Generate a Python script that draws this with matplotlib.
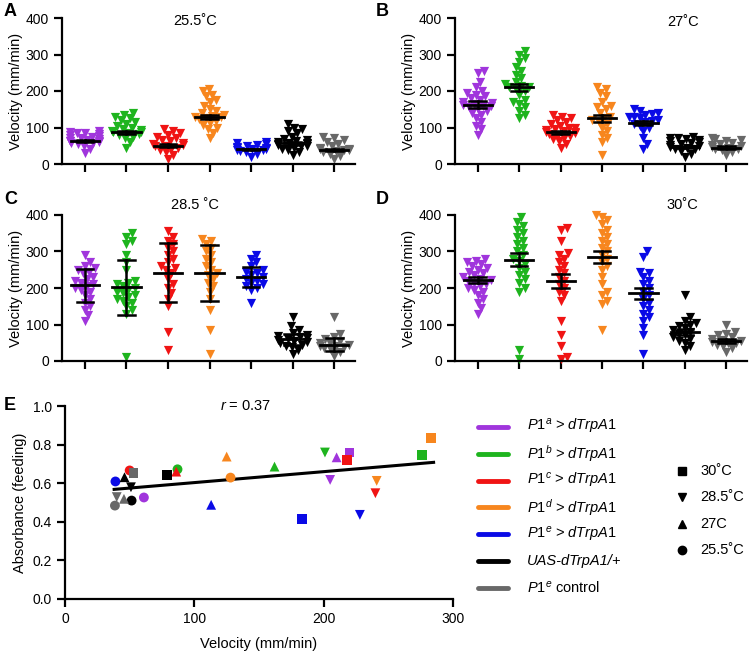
import numpy as np
import matplotlib
matplotlib.use("Agg")
import matplotlib.pyplot as plt
from matplotlib.lines import Line2D

plt.rcParams['font.family'] = ['Liberation Sans', 'DejaVu Sans']
plt.rcParams['mathtext.fontset'] = 'custom'
plt.rcParams['mathtext.it'] = 'Liberation Sans:italic'
plt.rcParams['mathtext.rm'] = 'Liberation Sans'

# genotypes / colours
labels = [r"$\mathit{P1^a}$ > $\mathit{dTrpA1}$", r"$\mathit{P1^b}$ > $\mathit{dTrpA1}$",
          r"$\mathit{P1^c}$ > $\mathit{dTrpA1}$", r"$\mathit{P1^d}$ > $\mathit{dTrpA1}$",
          r"$\mathit{P1^e}$ > $\mathit{dTrpA1}$", "UAS-dTrpA1/+", r"$\mathit{P1^e}$ control"]
colors = ['#A035DC', '#1EB41E', '#F01414', '#F7861E', '#0A0AE6', '#000000', '#686868']

# panel A, 25.5 C
purple_A = [30, 42, 50, 55, 57, 60, 62, 64, 66, 68, 72, 75, 78, 80, 82, 84, 86, 88, 90, 58, 63, 70]
green_A = [45, 60, 70, 75, 80, 82, 85, 87, 88, 90, 92, 95, 100, 105, 110, 115, 120, 125, 130, 135, 140]
red_A = [15, 25, 32, 38, 42, 45, 48, 50, 52, 55, 58, 62, 65, 70, 75, 80, 85, 90, 95]
orange_A = [70, 85, 95, 100, 108, 112, 118, 122, 126, 128, 130, 132, 135, 140, 145, 150, 160, 170, 175, 185, 190, 200, 205]
blue_A = [20, 28, 32, 35, 37, 38, 40, 42, 44, 45, 47, 50, 52, 55, 58, 60]
black_A = [25, 32, 38, 42, 45, 48, 50, 52, 54, 55, 57, 58, 60, 62, 65, 68, 75, 85, 90, 95, 100, 110]
gray_A = [15, 22, 28, 32, 35, 37, 38, 40, 42, 45, 50, 55, 60, 65, 70, 75]
mean_A = [62, 87, 50, 128, 40, 57, 38]
err_A = [3, 4, 4, 6, 2, 4, 3]

# panel B, 27 C
purple_B = [80, 95, 105, 115, 125, 135, 140, 145, 150, 155, 158, 160, 163, 165, 168, 170, 175, 180, 185, 190, 195, 200, 210, 225, 250, 255]
green_B = [125, 135, 145, 155, 165, 170, 175, 190, 200, 205, 210, 212, 215, 220, 225, 235, 245, 255, 265, 280, 290, 300, 310]
red_B = [45, 55, 62, 68, 72, 76, 80, 83, 85, 87, 88, 90, 92, 95, 98, 100, 105, 110, 115, 120, 125, 130, 135]
orange_B = [25, 60, 70, 80, 90, 100, 110, 115, 120, 125, 130, 140, 150, 155, 160, 170, 185, 195, 205, 210]
blue_B = [40, 55, 70, 90, 100, 105, 110, 115, 118, 120, 125, 128, 130, 135, 138, 140, 145, 150]
black_B = [20, 28, 35, 40, 42, 45, 47, 50, 52, 55, 58, 60, 62, 65, 68, 70, 72, 75]
gray_B = [25, 32, 38, 40, 42, 45, 47, 50, 53, 55, 58, 62, 65, 68, 70]
mean_B = [163, 210, 87, 125, 113, 47, 45]
err_B = [9, 9, 4, 10, 5, 3, 3]

# panel C, 28.5 C
purple_C = [110, 125, 140, 150, 160, 170, 180, 190, 195, 200, 205, 210, 215, 220, 225, 230, 240, 245, 250, 255, 260, 270, 290]
green_C = [10, 130, 140, 150, 160, 165, 170, 175, 180, 185, 190, 195, 200, 205, 210, 215, 220, 250, 270, 290, 320, 330, 340, 350]
red_C = [30, 80, 150, 170, 185, 200, 210, 225, 240, 250, 255, 260, 270, 280, 290, 300, 310, 320, 330, 340, 355]
orange_C = [20, 85, 140, 170, 190, 205, 215, 225, 235, 240, 250, 260, 270, 280, 290, 300, 310, 320, 330, 335]
blue_C = [160, 195, 200, 205, 210, 215, 220, 225, 230, 235, 240, 245, 250, 260, 270, 280, 290]
black_C = [20, 30, 38, 42, 45, 50, 52, 55, 58, 60, 62, 65, 68, 72, 78, 85, 95, 120]
gray_C = [15, 25, 30, 35, 38, 40, 42, 45, 48, 50, 55, 60, 65, 75, 120]
mean_C = [207, 202, 242, 242, 230, 60, 45]
err_C = [45, 75, 80, 77, 27, 15, 17]

# panel D, 30 C
purple_D = [130, 145, 160, 170, 180, 190, 195, 200, 205, 210, 215, 220, 222, 225, 230, 235, 240, 245, 250, 255, 260, 265, 270, 275, 280]
green_D = [5, 30, 190, 200, 215, 225, 235, 245, 255, 265, 275, 280, 290, 300, 310, 320, 330, 340, 350, 360, 370, 380, 395]
red_D = [5, 10, 40, 70, 110, 165, 180, 190, 200, 210, 220, 230, 240, 250, 260, 270, 280, 290, 295, 330, 360, 365]
orange_D = [85, 155, 165, 180, 190, 210, 230, 250, 260, 270, 280, 290, 300, 310, 320, 330, 340, 350, 360, 375, 385, 395, 400]
blue_D = [20, 70, 90, 110, 120, 130, 140, 150, 160, 170, 180, 190, 200, 210, 220, 230, 240, 245, 285, 300]
black_D = [30, 40, 50, 55, 60, 65, 70, 75, 80, 85, 90, 95, 100, 105, 110, 120, 180]
gray_D = [25, 35, 40, 45, 48, 50, 52, 55, 58, 60, 65, 70, 75, 80, 100]
mean_D = [222, 278, 219, 284, 185, 80, 55]
err_D = [7, 18, 18, 16, 14, 8, 5]

# panel E: velocity vs absorbance, genotype order as above
vel_25 = [61, 87, 50, 128, 39, 51.5, 38.6]
abs_25 = [0.526, 0.672, 0.666, 0.629, 0.609, 0.510, 0.484]
vel_27 = [210, 162, 86, 125, 113, 46, 45.6]
abs_27 = [0.734, 0.686, 0.66, 0.738, 0.488, 0.631, 0.519]
vel_285 = [205, 201, 240, 241, 228, 51, 40]
abs_285 = [0.617, 0.759, 0.548, 0.612, 0.436, 0.579, 0.528]
vel_30 = [220, 276, 218, 283, 183, 79, 53]
abs_30 = [0.759, 0.747, 0.721, 0.833, 0.416, 0.643, 0.652]
fit_x = [38, 285]
fit_y = [0.568, 0.708]
temp_labels = ["30˚C", "28.5˚C", "27C", "25.5˚C"]
temp_markers = ['s', 'v', '^', 'o']

W, H = 750, 654
fig = plt.figure(figsize=(7.5, 6.54), dpi=100)


def px_axes(l, t, r, b):
    return fig.add_axes([l / W, 1 - b / H, (r - l) / W, (b - t) / H])


def swarm(vals, sx, sy, d=6.5, maxw=0.35):
    # simple beeswarm: offsets in category units
    order = np.argsort(vals)
    placed = []
    offs = np.zeros(len(vals))
    for i in order:
        y = vals[i] * sy
        cands = [0.0]
        near = [(px, py) for px, py in placed if abs(py - y) < d]
        for px, py in near:
            dx = np.sqrt(d * d - (py - y) ** 2)
            cands += [px + dx, px - dx]
        cands.sort(key=abs)
        x = cands[-1]
        for c in cands:
            if all((c - px) ** 2 + (y - py) ** 2 >= d * d - 1e-6 for px, py in near):
                x = c
                break
        x = np.clip(x, -maxw * sx, maxw * sx)
        placed.append((x, y))
        offs[i] = x / sx
    return offs


def dot_panel(ax, groups, means, errs, title, tx, ty):
    sx = ax.get_position().width * W / 7.05
    sy = ax.get_position().height * H / 400
    for i, vals in enumerate(groups):
        vals = np.array(vals, dtype=float)
        offs = swarm(vals, sx, sy)
        ax.scatter(i + offs, vals, marker='v', s=44, color=colors[i], linewidths=0,
                   zorder=2, clip_on=False)
        m, e = means[i], errs[i]
        ax.plot([i - 0.34, i + 0.34], [m, m], color='k', lw=2, zorder=3)
        ax.plot([i, i], [m - e, m + e], color='k', lw=1.8, zorder=3)
        for yy in (m - e, m + e):
            ax.plot([i - 0.2, i + 0.2], [yy, yy], color='k', lw=1.8, zorder=3)
    ax.set_xlim(-0.55, 6.5)
    ax.set_ylim(0, 400)
    ax.set_yticks([0, 100, 200, 300, 400])
    ax.set_xticks(range(7))
    ax.set_xticklabels([])
    for s in ('top', 'right'):
        ax.spines[s].set_visible(False)
    for s in ('left', 'bottom'):
        ax.spines[s].set_linewidth(1.6)
    ax.tick_params(direction='out', length=6, width=1.6, labelsize=10)
    ax.set_ylabel("Velocity (mm/min)", fontsize=10.5, labelpad=2)
    ax.text(tx, ty, title, fontsize=10.5, ha='center', va='center', clip_on=False)


axA = px_axes(62, 18, 355, 164)
dot_panel(axA, [purple_A, green_A, red_A, orange_A, blue_A, black_A, gray_A], mean_A, err_A, "25.5˚C", 2.65, 392)
axB = px_axes(455, 18, 747, 164)
dot_panel(axB, [purple_B, green_B, red_B, orange_B, blue_B, black_B, gray_B], mean_B, err_B, "27˚C", 4.95, 390)
axC = px_axes(62, 215, 355, 361)
dot_panel(axC, [purple_C, green_C, red_C, orange_C, blue_C, black_C, gray_C], mean_C, err_C, "28.5 ˚C", 2.65, 428)
axD = px_axes(455, 215, 747, 361)
dot_panel(axD, [purple_D, green_D, red_D, orange_D, blue_D, black_D, gray_D], mean_D, err_D, "30˚C", 4.95, 428)

# panel E
axE = px_axes(65, 406, 453, 599)
for vel, ab, mk in zip([vel_25, vel_27, vel_285, vel_30], [abs_25, abs_27, abs_285, abs_30],
                       ['o', '^', 'v', 's']):
    axE.scatter(vel, ab, marker=mk, s=50, c=colors, linewidths=0, zorder=3)
axE.plot(fit_x, fit_y, color='k', lw=2.2, zorder=2)
axE.set_xlim(0, 300)
axE.set_ylim(0, 1.0)
axE.set_xticks([0, 100, 200, 300])
axE.set_yticks(np.arange(0, 1.01, 0.2))
axE.set_yticklabels(["0.0", "0.2", "0.4", "0.6", "0.8", "1.0"])
for s in ('top', 'right'):
    axE.spines[s].set_visible(False)
for s in ('left', 'bottom'):
    axE.spines[s].set_linewidth(1.6)
axE.tick_params(direction='out', length=6, width=1.6, labelsize=10)
axE.set_ylabel("Absorbance (feeding)", fontsize=10.5)
axE.set_xlabel("Velocity (mm/min)", fontsize=10.5, labelpad=8)
axE.text(140, 1.0, r"$\mathit{r}$ = 0.37", fontsize=10.5, ha='center', va='center')

# legends
for j, (lab, c) in enumerate(zip(labels, colors)):
    y = 1 - (427 + j * 26.8) / H
    fig.add_artist(Line2D([478 / W, 508 / W], [y, y], color=c, lw=3.5, solid_capstyle='round'))
    st = 'italic' if j == 5 else 'normal'
    fig.text(527 / W, y, lab, fontsize=10.5, va='center', style=st)
for j, (lab, mk) in enumerate(zip(temp_labels, temp_markers)):
    y = 1 - (471 + j * 26.3) / H
    fig.add_artist(Line2D([682 / W], [y], marker=mk, color='k', ms=6, lw=0))
    fig.text(700 / W, y, lab, fontsize=10.5, va='center')

# panel letters
for lab, x, y in [("A", 4, 12), ("B", 376, 12), ("C", 4, 200), ("D", 376, 200), ("E", 4, 406)]:
    fig.text(x / W, 1 - y / H, lab, fontsize=13, fontweight='bold', va='center')

fig.savefig("out.png", dpi=100)
